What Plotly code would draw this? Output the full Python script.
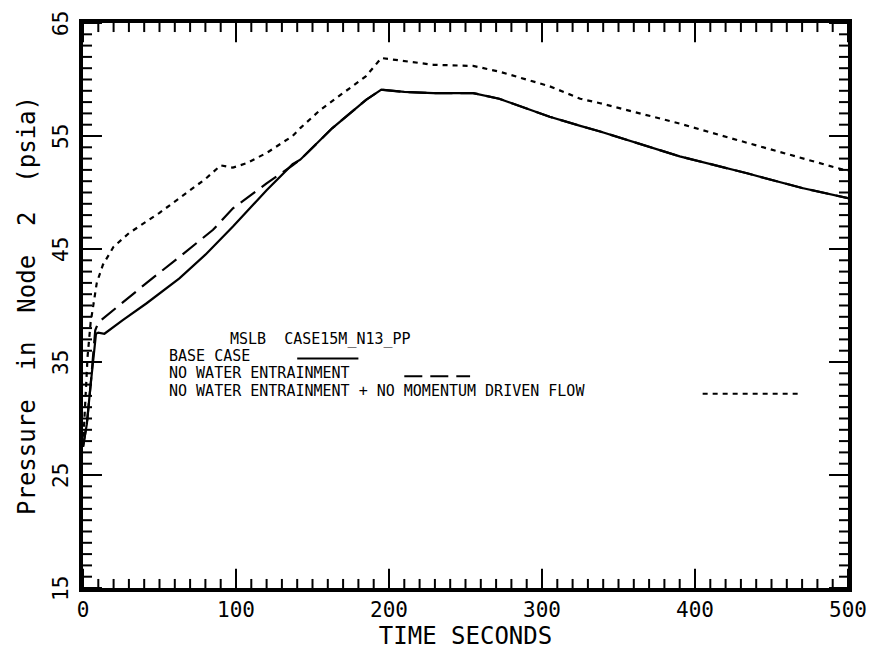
import plotly.graph_objects as go

# ---- data ----
t_base = [0, 2.5, 5, 8.5, 10, 14, 26, 41.6, 63, 80, 98, 120, 137, 142, 163, 185, 195, 210, 229, 255, 272, 305, 325, 338, 390, 434, 470, 500]
p_base = [27.5, 29.5, 33, 37.5, 37.6, 37.5, 38.7, 40.2, 42.4, 44.5, 47.0, 50.2, 52.5, 52.9, 55.7, 58.2, 59.1, 58.9, 58.8, 58.8, 58.3, 56.7, 55.9, 55.4, 53.2, 51.7, 50.4, 49.5]

t_nwe = [0, 2.5, 5, 8, 10, 26, 41.6, 63, 85, 98, 107, 120, 137, 142, 163, 185, 195, 210, 229, 255, 272, 305, 325, 338, 390, 434, 470, 500]
p_nwe = [27.5, 29.5, 33, 37.8, 38.5, 40.3, 42.0, 44.3, 46.7, 48.6, 49.5, 50.8, 52.4, 52.9, 55.7, 58.2, 59.1, 58.9, 58.8, 58.8, 58.3, 56.7, 55.9, 55.4, 53.2, 51.7, 50.4, 49.5]

t_nwe_nm = [0, 1.5, 3, 5, 7, 9, 13, 20, 30, 41.6, 50, 63, 80, 90, 98, 107, 120, 137, 142, 155, 164, 185, 195, 229, 255, 272, 305, 325, 338, 390, 434, 493, 500]
p_nwe_nm = [27.5, 31, 35.5, 38.5, 40.3, 42, 43.6, 45.2, 46.4, 47.4, 48.2, 49.5, 51.2, 52.4, 52.2, 52.6, 53.5, 55.0, 55.7, 57.3, 58.2, 60.3, 61.9, 61.3, 61.2, 60.7, 59.4, 58.3, 57.9, 56.1, 54.4, 52.2, 51.9]

x_range = [0, 500]
y_range = [15, 65]
x_major_ticks = [0, 100, 200, 300, 400, 500]
y_major_ticks = [15, 25, 35, 45, 55, 65]
x_minor_step = 10
y_minor_step = 1

legend_title = "MSLB\u00a0\u00a0CASE15M_N13_PP"
legend_labels = ["BASE CASE", "NO WATER ENTRAINMENT", "NO WATER ENTRAINMENT + NO MOMENTUM DRIVEN FLOW"]

FONT = "DejaVu Sans Mono"

fig = go.Figure()

# ---- tick marks on all four sides (inside), drawn as line traces in data coordinates ----
MAJ_X, MIN_X = 1.7, 0.8     # tick length in psi (x-axis ticks)
MAJ_Y, MIN_Y = 12.4, 5.9    # tick length in seconds (y-axis ticks)

x_minor_ticks = [v for v in range(x_range[0], x_range[1] + 1, x_minor_step) if v not in x_major_ticks]
y_minor_ticks = [v for v in range(y_range[0], y_range[1] + 1, y_minor_step) if v not in y_major_ticks]

tx, ty = [], []
for ticks, ln in ((x_major_ticks, MAJ_X), (x_minor_ticks, MIN_X)):
    for v in ticks:
        tx += [v, v, None, v, v, None]
        ty += [y_range[0], y_range[0] + ln, None, y_range[1] - ln, y_range[1], None]
for ticks, ln in ((y_major_ticks, MAJ_Y), (y_minor_ticks, MIN_Y)):
    for v in ticks:
        tx += [x_range[0], x_range[0] + ln, None, x_range[1] - ln, x_range[1], None]
        ty += [v, v, None, v, v, None]
fig.add_trace(go.Scatter(x=tx, y=ty, mode="lines", line=dict(color="black", width=2),
                         showlegend=False, hoverinfo="skip", connectgaps=False))

fig.add_trace(go.Scatter(x=t_nwe_nm, y=p_nwe_nm, mode="lines",
                         line=dict(color="black", width=2.2, dash="5px,5px"),
                         name=legend_labels[2], showlegend=False))
fig.add_trace(go.Scatter(x=t_nwe, y=p_nwe, mode="lines",
                         line=dict(color="black", width=2.2, dash="18px,8px"),
                         name=legend_labels[1], showlegend=False))
fig.add_trace(go.Scatter(x=t_base, y=p_base, mode="lines",
                         line=dict(color="black", width=2.2),
                         name=legend_labels[0], showlegend=False))

fig.update_layout(
    xaxis=dict(range=x_range, tickmode="array", tickvals=x_major_ticks,
               ticktext=[str(v) for v in x_major_ticks],
               showline=True, linecolor="black", linewidth=3.5, mirror=True,
               ticks="", showgrid=False, zeroline=False,
               tickfont=dict(family=FONT, size=21, color="black"),
               title=dict(text="TIME\u00a0SECONDS", font=dict(family=FONT, size=24, color="black"), standoff=6)),
    yaxis=dict(range=y_range, showticklabels=False,
               showline=True, linecolor="black", linewidth=3.5, mirror=True,
               ticks="", showgrid=False, zeroline=False,
               title=dict(text="Pressure\u00a0\u00a0in\u00a0\u00a0Node\u00a0\u00a02\u00a0\u00a0(psia)",
                          font=dict(family=FONT, size=24, color="black"), standoff=38)),
)

# rotated y tick labels
for v in y_major_ticks:
    fig.add_annotation(x=-0.0288, y=v, xref="paper", yref="y", text=str(v), textangle=-90,
                       showarrow=False, xanchor="center", yanchor="middle",
                       font=dict(family=FONT, size=21, color="black"))

# ---- in-plot legend (text + line samples) ----
leg_x = 55          # left of legend text, in seconds
leg_rows = [35.55, 34.0, 32.45]   # row centres, psi
title_y = 37.05
sample_spans = [(140, 180), (210, 253), (405, 470)]
sample_dash = ["solid", "18px,8px", "5px,5px"]

fig.add_annotation(x=155, y=title_y, xref="x", yref="y", text=legend_title, showarrow=False,
                   xanchor="center", yanchor="middle", font=dict(family=FONT, size=15, color="black"))
for lab, yy, (x0, x1), d in zip(legend_labels, leg_rows, sample_spans, sample_dash):
    fig.add_annotation(x=leg_x, y=yy, xref="x", yref="y", text=lab, showarrow=False,
                       xanchor="left", yanchor="middle", font=dict(family=FONT, size=15, color="black"))
    fig.add_shape(type="line", xref="x", yref="y", x0=x0, x1=x1, y0=yy - 0.25, y1=yy - 0.25,
                  line=dict(color="black", width=2, dash=d))

fig.update_layout(
    width=878, height=661,
    margin=dict(l=83, r=30, t=23, b=73),
    paper_bgcolor="white", plot_bgcolor="white",
    showlegend=False,
    font=dict(family=FONT, color="black"),
)

fig.write_html("out.html")
